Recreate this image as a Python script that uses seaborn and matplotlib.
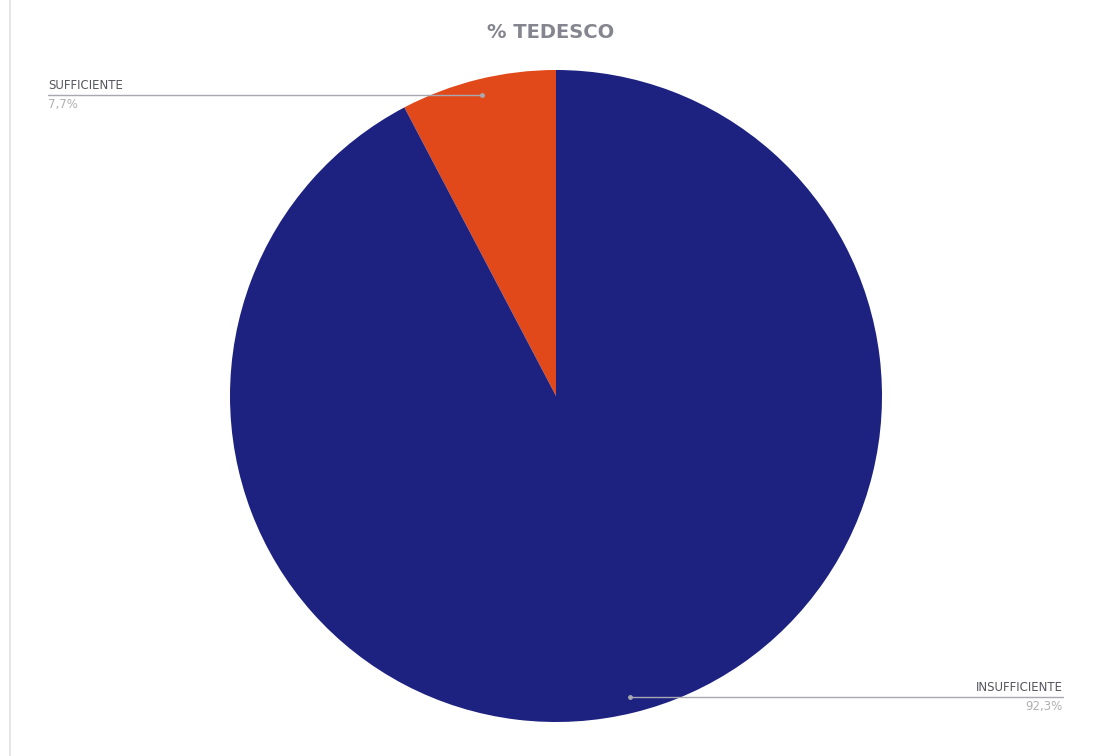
import matplotlib
matplotlib.use('Agg')
import matplotlib.pyplot as plt
from matplotlib.lines import Line2D
import numpy as np
import seaborn as sns

# data
categories = ['SUFFICIENTE', 'INSUFFICIENTE']
values = [7.7, 92.3]
pct_labels = ['7,7%', '92,3%']
colors = ['#e2491a', '#1d2180']

sns.set_theme(style='white')
plt.rcParams['font.family'] = ['DejaVu Sans']

W, H = 1099, 756
fig = plt.figure(figsize=(W / 100, H / 100), dpi=100)
ax = fig.add_axes([0, 0, 1, 1])

center = (556, H - 396)
radius = 326
wedges, _ = ax.pie(values, colors=colors, startangle=90, counterclock=True,
                   center=center, radius=radius, wedgeprops={'linewidth': 0})
ax.set_xlim(0, W)
ax.set_ylim(0, H)
ax.set_aspect('equal')
ax.axis('off')

# leader lines and labels
for w, name, pct in zip(wedges, categories, pct_labels):
    mid = np.deg2rad((w.theta1 + w.theta2) / 2)
    px = center[0] + 0.95 * radius * np.cos(mid)
    py = center[1] + 0.95 * radius * np.sin(mid)
    if np.cos(mid) < 0:
        x_end, ha = 48, 'left'
    else:
        x_end, ha = 1063, 'right'
    ax.plot([px, x_end], [py, py], color='#a8a8b0', lw=1)
    ax.plot(px, py, 'o', color='#a8a8b0', ms=2.5)
    ax.text(x_end, py + 3, name, ha=ha, va='bottom', fontsize=8.5, color='#55555f')
    ax.text(x_end, py - 3, pct, ha=ha, va='top', fontsize=8.5, color='#b0b0b0')

ax.text(W / 2 + 1, H - 32, '% TEDESCO', ha='center', va='center',
        fontsize=14, fontweight='bold', color='#85858f')

# faint frame line on the left
fig.add_artist(Line2D([10 / W, 10 / W], [0, 1], color='#e2e2e2', lw=1.2))

fig.savefig('out.png', dpi=100, facecolor='white')
